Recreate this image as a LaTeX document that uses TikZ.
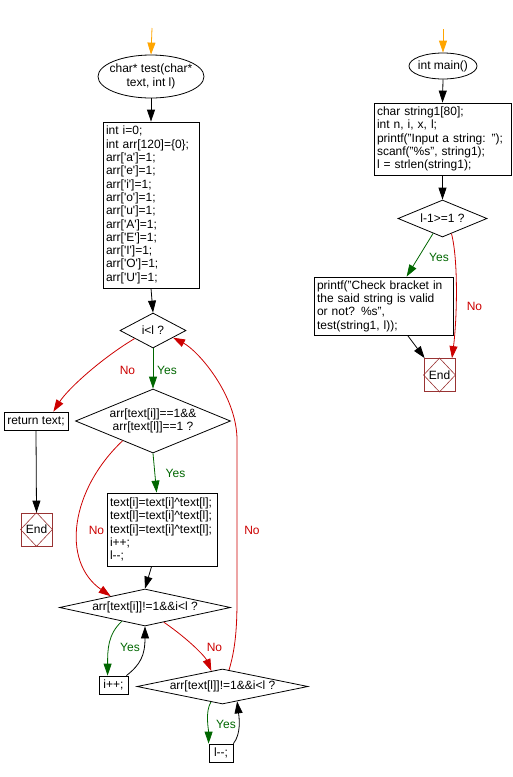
\documentclass[tikz,border=0pt]{standalone}
\usepackage{fontspec}
\setmainfont{Liberation Sans}
\usetikzlibrary{shapes.geometric,arrows.meta,calc}
\definecolor{cred}{RGB}{204,0,0}
\definecolor{cgreen}{RGB}{0,102,0}
\definecolor{corange}{RGB}{255,165,0}
\definecolor{cend}{RGB}{153,51,51}
\newcommand{\qs}{\textquotesingle}
\begin{document}
\begin{tikzpicture}[x=1pt,y=-1pt,
 font=\fontsize{12}{13.3}\selectfont,
 line width=0.8pt,
 arr/.style={-{Triangle[length=12pt,width=8pt]}},
 box/.style={draw, rectangle, inner xsep=3pt, inner ysep=0pt, align=left},
 sbox/.style={draw, rectangle, inner sep=0pt, align=center},
 dia/.style={draw, diamond, inner sep=0pt},
 ell/.style={draw, ellipse, inner sep=0pt},
 txt/.style={inner sep=0pt, align=center},
 endb/.style={draw=cend, rectangle, minimum width=31pt, minimum height=33pt, inner sep=0pt},
 yes/.style={cgreen, arr}, no/.style={cred, arr},
 ylab/.style={text=cgreen, inner sep=0pt}, nlab/.style={text=cred, inner sep=0pt}]
\useasboundingbox (0,0) rectangle (512,777);

% ---------- left: test() ----------
\coordinate (s1) at (152,28);
\node[ell, minimum width=106pt, minimum height=43pt] (e1) at (151,76.5) {};
\node[txt] (e1t) at (e1) {char* test(char*\\text, int l)};
\node[box, text width=90pt, minimum height=166pt] (b1) at (151,205) {int i=0;\\int arr[120]=\{0\};\\arr[\qs a\qs]=1;\\arr[\qs e\qs]=1;\\arr[\qs i\qs]=1;\\arr[\qs o\qs]=1;\\arr[\qs u\qs]=1;\\arr[\qs A\qs]=1;\\arr[\qs E\qs]=1;\\arr[\qs I\qs]=1;\\arr[\qs O\qs]=1;\\arr[\qs U\qs]=1;};
\node[dia, minimum width=66pt, minimum height=35pt] (d1) at (153,330.5) {};
\node[txt] (d1t) at (d1) {i<l ?};
\node[dia, minimum width=155pt, minimum height=64pt] (d2) at (153,421) {};
\node[txt] (d2t) at (d2) {arr[text[i]]==1\&\&\\arr[text[l]]==1 ?};
\node[sbox, minimum width=64pt, minimum height=18pt] (ret) at (36,421) {return text;};
\node[endb] (end1) at (36.5,529.5) {End};
\draw[cend, line width=0.6pt] (end1.north) -- (end1.east) -- (end1.south) -- (end1.west) -- cycle;
\node[box, text width=104pt, minimum height=73pt] (b3) at (162,529.5) {text[i]=text[i]\textasciicircum text[l];\\text[l]=text[i]\textasciicircum text[l];\\text[i]=text[i]\textasciicircum text[l];\\i++;\\l-{}-;};
\node[dia, minimum width=171pt, minimum height=37pt] (d3) at (145,607.5) {};
\node[txt] (d3t) at (d3) {arr[text[i]]!=1\&\&i<l ?};
\node[sbox, minimum width=29pt, minimum height=18pt] (ipp) at (113.5,685) {i++;};
\node[dia, minimum width=171pt, minimum height=35pt] (d4) at (222.5,686.5) {};
\node[txt] (d4t) at (d4) {arr[text[l]]!=1\&\&i<l ?};
\node[sbox, minimum width=24pt, minimum height=18pt] (lmm) at (221,753) {l-{}-;};
\coordinate (r1) at (237,600);
\coordinate (r2) at (237,440);

\draw[arr, corange] (s1) -- (e1.north);
\draw[arr] (e1.south) -- (b1.north);
\draw[arr] (b1.south) -- (d1.north);
\draw[yes] (d1.south) -- (d2.north);
\draw[no] ($(d1.west)!0.45!(d1.south)$) .. controls +(-35,21) and +(14,-22) .. ($(ret.north east)+(-15,0)$);
\draw[yes] (d2.south) -- ($(b3.north west)+(50,0)$);
\draw[arr] (ret.south) -- (end1.north);
\draw[arr] ($(b3.south west)+(45,0)$) -- (d3.north);
\draw[no] ($(d2.west)!0.61!(d2.south)$) .. controls +(-52,49) and +(-50,-35) .. ($(d3.west)!0.6!(d3.north)$);
\draw[yes] ($(d3.west)!0.73!(d3.south)$) .. controls +(-14,13) and +(0,-26) .. ($(ipp.north west)+(9,0)$);
\draw[arr] ($(ipp.north east)+(-2,0)$) .. controls +(14,-11) and +(0,29) .. (d3.south);
\draw[no] ($(d3.east)!0.78!(d3.south)$) .. controls +(26,18) and +(-6,-14) .. ($(d4.north)!0.13!(d4.west)$);
\draw[yes] ($(d4.west)!0.865!(d4.south)$) .. controls +(-6,10) and +(0,-14) .. (lmm.north west);
\draw[arr] (lmm.north east) .. controls +(8,-10) and +(2,16) .. ($(d4.south)!0.17!(d4.east)$);
\draw[no] ($(d4.north)!0.076!(d4.east)$) .. controls +(6,-20) and +(0,30) .. (r1) -- (r2) .. controls +(0,-45) and +(25,13) .. ($(d1.east)!0.4!(d1.south)$);

\node[ylab] (y1) at (167,370) {Yes};
\node[nlab] (n1) at (127.5,370) {No};
\node[ylab] (y2) at (175.5,473) {Yes};
\node[nlab] (n2) at (96.5,530) {No};
\node[nlab] (n3) at (252,530) {No};
\node[ylab] (y3) at (130,647) {Yes};
\node[nlab] (n4) at (214.5,647) {No};
\node[ylab] (y4) at (226,724) {Yes};

% ---------- right: main() ----------
\coordinate (s2) at (443,29);
\node[ell, minimum width=68pt, minimum height=26pt] (e2) at (443,66) {};
\node[txt] (e2t) at (e2) {int main()};
\node[box, text width=131pt, minimum height=72pt] (b4) at (442.5,139) {char string1[80];\\int n, i, x, l;\\printf("Input a string: ");\\scanf("\%s", string1);\\l = strlen(string1);};
\node[dia, minimum width=89pt, minimum height=37pt] (d5) at (442.5,218.5) {};
\node[txt] (d5t) at (d5) {l-1>=1 ?};
\node[box, text width=133pt, minimum height=58pt] (b5) at (383.5,306) {printf("Check bracket in\\the said string is valid\\or not? \%s",\\test(string1, l));};
\node[endb] (end2) at (439.5,375) {End};
\draw[cend, line width=0.6pt] (end2.north) -- (end2.east) -- (end2.south) -- (end2.west) -- cycle;

\draw[arr, corange] (s2) -- (e2.north);
\draw[arr] (e2.south) -- (b4.north);
\draw[arr] (b4.south) -- (d5.north);
\draw[yes] ($(d5.west)!0.79!(d5.south)$) -- ($(b5.north west)+(93,0)$);
\draw[no] ($(d5.south)!0.2!(d5.east)$) .. controls +(7,27) and +(5,-39) .. ($(end2.north)+(12.5,0)$);
\draw[arr] ($(b5.south west)+(94,0)$) -- ($(end2.north west)+(1,0)$);

\node[ylab] (y5) at (439,257) {Yes};
\node[nlab] (n5) at (474.5,306) {No};
\end{tikzpicture}
\end{document}
